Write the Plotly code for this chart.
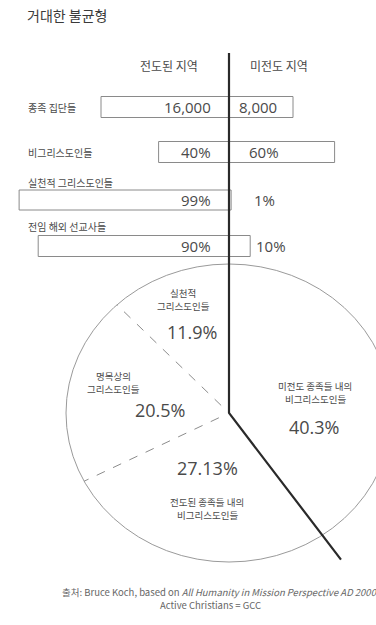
import numpy as np
import plotly.graph_objects as go

# ---------------- data ----------------
title = "거대한 불균형"
col_headers = ["전도된 지역", "미전도 지역"]
row_labels = ["종족 집단들", "비그리스도인들", "실천적 그리스도인들", "전임 해외 선교사들"]
left_values = [16000, 40, 99, 90]
right_values = [8000, 60, 1, 10]
value_units = ["", "%", "%", "%"]

pie_labels = [["미전도 종족들 내의", "비그리스도인들"],
              ["전도된 종족들 내의", "비그리스도인들"],
              ["명목상의", "그리스도인들"],
              ["실천적", "그리스도인들"]]
pie_values = [40.3, 27.13, 20.5, 11.9]
pie_value_text = ["40.3%", "27.13%", "20.5%", "11.9%"]

source_lines = ["출처: Bruce Koch, based on <i>All Humanity in Mission Perspective AD 2000</i>",
                "Active Christians = GCC"]

# ---------------- layout / style ----------------
W, H = 376, 625
CX = 229                     # divider x
row_y = [107, 152, 200, 246]
bar_h = [21, 21, 20, 21]
px_per_unit = [0.008, 1.76, 2.12, 2.12]
label_y = [107, 152, 182, 226]
label_x = 26
left_text_x = 213
right_text_x = [237, 247, 252, 254]

PY = 413                     # pie center y
RX, RY = 163, 149            # pie radii
pie_label_pos = [(315, 392), (207, 508), (113, 382), (183, 299)]
pie_value_pos = [(314, 427), (207, 468), (160, 410), (192, 332)]
LINE_GAP = 13

KR = "Noto Sans CJK KR"
NUM = "Open Sans, Noto Sans CJK KR"
TXT = "#4a4a4a"

fig = go.Figure()

# bars
fig.add_trace(go.Bar(
    orientation="h", y=row_y,
    x=[-v * s for v, s in zip(left_values, px_per_unit)],
    base=CX, width=bar_h,
    marker=dict(color="white", line=dict(color="#8a8a8a", width=1)),
    hoverinfo="skip", showlegend=False))
fig.add_trace(go.Bar(
    orientation="h", y=row_y,
    x=[v * s for v, s in zip(right_values, px_per_unit)],
    base=CX, width=bar_h,
    marker=dict(color="white", line=dict(color="#8a8a8a", width=1)),
    hoverinfo="skip", showlegend=False))

# pie outline
fig.add_shape(type="circle", xref="x", yref="y",
              x0=CX - RX, x1=CX + RX, y0=PY - RY, y1=PY + RY,
              line=dict(color="#9a9a9a", width=1), layer="below")

# pie boundaries from data
total = 100.0
cum = np.concatenate([[0], np.cumsum(pie_values)[:-1]]) / total
def pt(frac, k=1.0):
    th = 2 * np.pi * frac
    return CX + k * RX * np.sin(th), PY - k * RY * np.cos(th)

# dashed boundaries (between evangelized-side slices)
for f in cum[2:]:
    x0, y0 = pt(f, 0.07)
    x1, y1 = pt(f, 1.0)
    fig.add_trace(go.Scatter(x=[x0, x1], y=[y0, y1], mode="lines",
                             line=dict(color="#8c8c8c", width=1, dash="dash"),
                             hoverinfo="skip", showlegend=False))

# solid divider: vertical from header down to pie centre, then along 40.3% boundary
xe, ye = pt(cum[1], 1.2)
fig.add_trace(go.Scatter(x=[CX, CX, xe], y=[53, PY, ye], mode="lines",
                         line=dict(color="#2a2a2a", width=2.2),
                         hoverinfo="skip", showlegend=False))

ann = []
ann.append(dict(x=25, y=15, text=title, xanchor="left", yanchor="middle",
                font=dict(family=KR, size=14, color="#3a3a3a")))
ann.append(dict(x=169, y=65, text=col_headers[0], xanchor="center", yanchor="middle",
                font=dict(family=KR, size=12, color=TXT)))
ann.append(dict(x=279, y=65, text=col_headers[1], xanchor="center", yanchor="middle",
                font=dict(family=KR, size=12, color=TXT)))

for i in range(4):
    ann.append(dict(x=label_x, y=label_y[i], text=row_labels[i], xanchor="left",
                    yanchor="middle", font=dict(family=KR, size=10, color=TXT)))
    u = value_units[i]
    lt = f"{left_values[i]:,}{u}"
    rt = f"{right_values[i]:,}{u}"
    ann.append(dict(x=left_text_x, y=row_y[i], text=lt, xanchor="right", yanchor="middle",
                    font=dict(family=NUM, size=15, color=TXT)))
    ann.append(dict(x=right_text_x[i], y=row_y[i], text=rt, xanchor="left", yanchor="middle",
                    font=dict(family=NUM, size=15, color=TXT)))

for i in range(4):
    lx, ly = pie_label_pos[i]
    vx, vy = pie_value_pos[i]
    lines = pie_labels[i]
    n = len(lines)
    for j, line in enumerate(lines):
        yy = ly + (j - (n - 1) / 2) * LINE_GAP
        ann.append(dict(x=lx, y=yy, text=line, xanchor="center", yanchor="middle",
                        font=dict(family=KR, size=9.5, color=TXT)))
    ann.append(dict(x=vx, y=vy, text=pie_value_text[i], xanchor="center", yanchor="middle",
                    font=dict(family=NUM, size=18, color=TXT)))

ann.append(dict(x=60, y=592, text=source_lines[0], xanchor="left", yanchor="middle",
                font=dict(family=KR, size=9.5, color="#666")))
ann.append(dict(x=210, y=605, text=source_lines[1], xanchor="center", yanchor="middle",
                font=dict(family=KR, size=9.5, color="#666")))

for a in ann:
    a.update(xref="x", yref="y", showarrow=False)

fig.update_layout(
    width=W, height=H, margin=dict(l=0, r=0, t=0, b=0),
    paper_bgcolor="white", plot_bgcolor="white",
    xaxis=dict(range=[0, W], visible=False, fixedrange=True),
    yaxis=dict(range=[H, 0], visible=False, fixedrange=True),
    barmode="overlay", annotations=ann, showlegend=False)

fig.write_html("out.html")
